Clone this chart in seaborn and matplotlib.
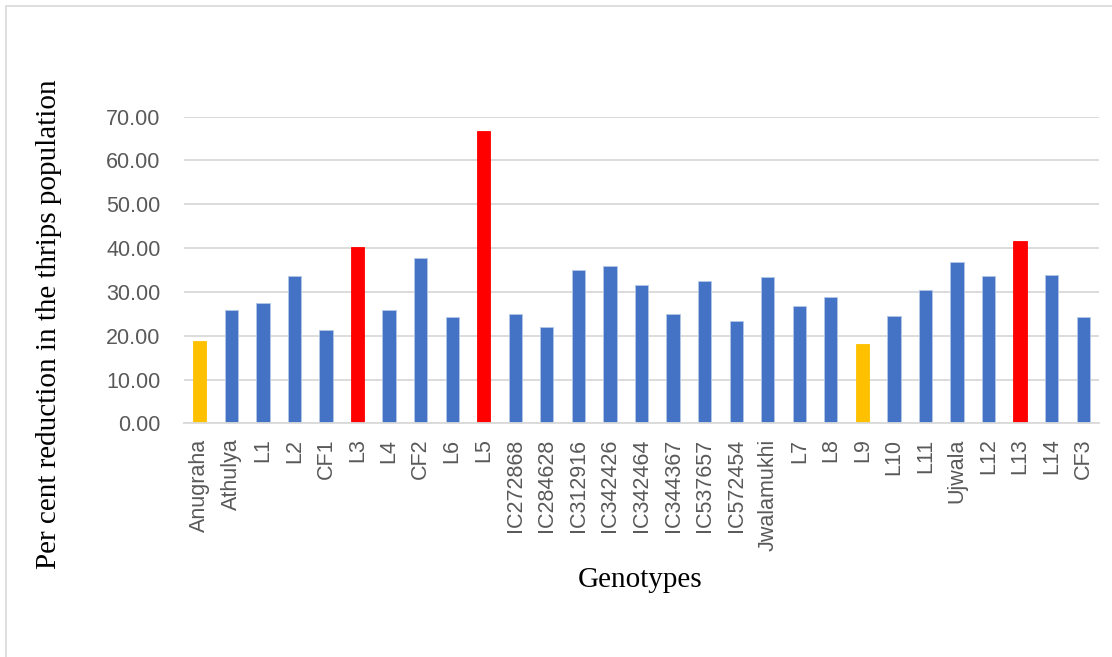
import matplotlib
matplotlib.use('Agg')
import matplotlib.pyplot as plt
import seaborn as sns
import pandas as pd
from matplotlib.patches import Rectangle

# data
genotypes = ['Anugraha', 'Athulya', 'L1', 'L2', 'CF1', 'L3', 'L4', 'CF2', 'L6', 'L5',
             'IC272868', 'IC284628', 'IC312916', 'IC342426', 'IC342464', 'IC344367',
             'IC537657', 'IC572454', 'Jwalamukhi', 'L7', 'L8', 'L9', 'L10', 'L11',
             'Ujwala', 'L12', 'L13', 'L14', 'CF3']
reduction = [18.8, 25.8, 27.5, 33.6, 21.3, 40.3, 25.8, 37.8, 24.2, 66.7,
             25.0, 22.1, 34.9, 35.8, 31.6, 25.0, 32.4, 23.4, 33.3, 26.7,
             28.8, 18.1, 24.6, 30.4, 36.9, 33.6, 41.6, 33.8, 24.2]
group = ['check', 'base', 'base', 'base', 'base', 'top', 'base', 'base', 'base', 'top',
         'base', 'base', 'base', 'base', 'base', 'base', 'base', 'base', 'base', 'base',
         'base', 'check', 'base', 'base', 'base', 'base', 'top', 'base', 'base']
group_colors = {'base': '#4472C4', 'top': '#FF0000', 'check': '#FFC000'}
y_ticks = [0, 10, 20, 30, 40, 50, 60, 70]

df = pd.DataFrame({'genotype': genotypes, 'reduction': reduction, 'group': group})

sns.set_style('white')
plt.rcParams['font.family'] = ['Liberation Sans', 'DejaVu Sans']

fig = plt.figure(figsize=(11.12, 6.57), dpi=100)
ax = fig.add_axes([0.1655, 0.3557, 0.8228, 0.4667])

sns.barplot(data=df, x='genotype', y='reduction', hue='group', palette=group_colors,
            order=genotypes, dodge=False, width=0.42, legend=False, ax=ax,
            saturation=1, edgecolor='#B4C7E7', linewidth=0.6)
# red and yellow bars have no light outline
for p in ax.patches:
    fc = p.get_facecolor()
    if fc[0] > 0.9:
        p.set_edgecolor(fc)

ax.set_ylim(0, 70)
ax.set_xlim(-0.5, len(genotypes) - 0.5)
ax.set_yticks(y_ticks)
ax.set_yticklabels([f'{v:.2f}' for v in y_ticks])
ax.yaxis.grid(True, color='#D9D9D9', linewidth=1.3)
ax.set_axisbelow(True)
for side in ['top', 'right', 'left']:
    ax.spines[side].set_visible(False)
ax.spines['bottom'].set_color('#D9D9D9')
ax.spines['bottom'].set_linewidth(1.3)

ax.tick_params(axis='y', length=0, pad=17, labelsize=15.5, labelcolor='#595959')
ax.tick_params(axis='x', length=0, pad=11, labelsize=15.5, labelcolor='#595959',
               labelrotation=90)

ax.set_xlabel('')
ax.set_ylabel('')
fig.text(0.044, 0.507, 'Per cent reduction in the thrips population', rotation=90,
         ha='center', va='center', fontsize=21, family='Liberation Serif', color='black')
fig.text(0.576, 0.117, 'Genotypes', ha='center', va='center', fontsize=21,
         family='Liberation Serif', color='black')

# chart frame
frame_top = 1 - 6 / 657
fig.patches.append(Rectangle((6 / 1112, -0.05), 1.2, frame_top + 0.05,
                             transform=fig.transFigure, fill=False,
                             edgecolor='#D9D9D9', linewidth=1.2))

fig.savefig('out.png', dpi=100)
